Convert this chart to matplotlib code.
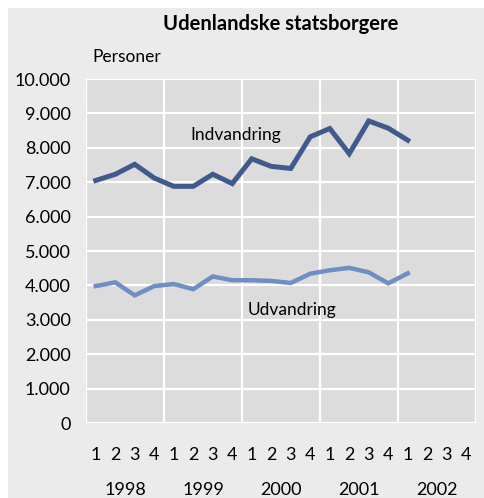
#!/usr/bin/env python
# -*- coding: utf-8 -*-
"""
Udenlandske statsborgere - ind- og udvandring pr. kvartal 1998-2002
"""

import matplotlib
matplotlib.use('Agg')
import matplotlib.pyplot as plt
from matplotlib.patches import Rectangle
from matplotlib.ticker import FuncFormatter
import matplotlib.transforms as mtransforms

# =============================================================================
# Define variables
# =============================================================================
years = ['1998', '1999', '2000', '2001', '2002']
quarters = ['1', '2', '3', '4']

indvandring = [7050, 7230, 7520, 7120, 6880, 6880, 7230, 6960, 7680,
               7460, 7400, 8320, 8560, 7830, 8780, 8570, 8220]
udvandring = [3980, 4090, 3710, 3980, 4040, 3890, 4260, 4150, 4150,
              4130, 4070, 4340, 4440, 4510, 4380, 4060, 4350]

FONT = ['Lato', 'DejaVu Sans']
DARK = '#3f5a8b'
LIGHT = '#6f8ec3'

# =============================================================================
# Start of code
# =============================================================================
if __name__ == "__main__":
    plt.rcParams['font.family'] = FONT

    fig = plt.figure(figsize=(4.84, 4.98), dpi=100)
    fig.patch.set_facecolor('white')
    # grey panel behind everything
    fig.patches.append(Rectangle((8 / 484, 0), 1, 1 - 8 / 498,
                                 transform=fig.transFigure,
                                 facecolor='#ebebeb', edgecolor='none',
                                 zorder=0))

    ax = fig.add_axes([86 / 484, 75 / 498, 390 / 484, 344 / 498])
    ax.set_zorder(1)
    ax.set_facecolor('#dcdcdc')
    for sp in ax.spines.values():
        sp.set_visible(False)

    nq = len(years) * len(quarters)
    xs = [i + 0.5 for i in range(len(indvandring))]
    ax.plot(xs, indvandring, color=DARK, lw=3.6, solid_joinstyle='miter',
            zorder=3)
    ax.plot(xs, udvandring, color=LIGHT, lw=3.2, solid_joinstyle='miter',
            zorder=3)

    ax.set_xlim(0, nq)
    ax.set_ylim(0, 10000)

    # grid
    ax.set_yticks(range(0, 10001, 1000))
    ax.yaxis.set_major_formatter(
        FuncFormatter(lambda v, p: '{:,.0f}'.format(v).replace(',', '.')))
    ax.set_xticks(range(0, nq + 1, 4), minor=False)
    ax.set_xticklabels([])
    ax.grid(True, color='white', lw=1.6, zorder=1)
    ax.set_axisbelow(True)
    ax.tick_params(axis='both', length=0, labelsize=13)
    ax.tick_params(axis='y', pad=11)

    # quarter labels and year labels
    trans = mtransforms.blended_transform_factory(ax.transData, fig.transFigure)
    for i in range(nq):
        ax.text(i + 0.5, 1 - 455 / 498, quarters[i % 4], transform=trans,
                ha='center', va='center', fontsize=13)
    for j, yr in enumerate(years):
        ax.text(j * 4 + 2, 1 - 490 / 498, yr, transform=trans,
                ha='center', va='center', fontsize=13)

    # series labels
    ax.text(5.35, 8370, 'Indvandring', ha='left', va='center', fontsize=12.5)
    ax.text(8.3, 3280, 'Udvandring', ha='left', va='center', fontsize=12.5)

    fig.text(281 / 484, 1 - 24 / 498, 'Udenlandske statsborgere',
             ha='center', va='center', fontsize=14.5, fontweight='bold')
    fig.text(92 / 484, 1 - 57 / 498, 'Personer', ha='left', va='center',
             fontsize=12.5)

    fig.savefig('out.png', dpi=100, facecolor=fig.get_facecolor())
    plt.close()
